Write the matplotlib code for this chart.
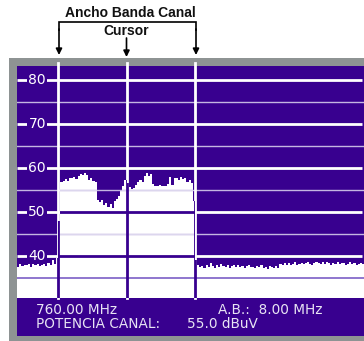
import matplotlib
matplotlib.use('Agg')
import matplotlib.pyplot as plt
from matplotlib.patches import Rectangle
import numpy as np

# spectrum levels (dBuV)
left_noise = [37.4, 38.2, 37.6, 38.0, 37.8, 38.3, 37.5, 38.1, 37.9, 38.4,
              37.7, 38.0, 38.2, 37.6, 38.3, 38.0, 39.1, 38.2, 39.6]
channel = [48.0, 56.8, 57.1, 57.4, 57.0, 57.8, 57.6, 58.0, 57.5, 58.1,
           58.6, 58.3, 58.8, 58.5, 57.3, 57.6, 57.0, 56.9, 52.6, 52.3,
           52.8, 51.6, 52.0, 51.2, 51.8, 50.8, 52.4, 52.9, 53.6, 54.8,
           55.9, 57.2, 56.6, 55.7, 55.3, 55.5, 56.2, 56.9, 57.3, 56.8,
           58.2, 58.9, 58.1, 58.6, 56.4, 56.0, 55.8, 56.1, 55.9, 56.0,
           55.8, 56.4, 57.9, 56.2, 57.6, 57.8, 57.2, 57.9, 57.4, 57.6,
           56.9, 57.3, 56.6, 52.4]
right_noise = [39.0, 37.8, 37.4, 37.6, 37.3, 37.9, 37.5, 38.3, 37.6, 37.2,
               37.8, 37.4, 38.1, 37.7, 37.5, 37.9, 37.3, 37.6, 37.8, 37.4,
               38.0, 37.5, 37.7, 37.3, 37.6, 37.9, 37.4, 37.5, 37.2, 37.6,
               37.4, 37.8, 37.3, 37.5, 37.1, 37.6, 37.4, 37.2, 37.7, 37.3,
               38.2, 37.9, 38.4, 38.0, 38.3, 37.9, 38.1, 38.5, 38.0, 38.2,
               38.4, 38.1, 38.3, 38.6, 38.2, 38.0, 38.4, 38.7, 38.3, 38.1,
               38.5, 38.2, 38.6, 38.3, 38.0, 38.4, 38.2, 38.5, 38.1, 38.3,
               38.4, 38.0, 38.2, 38.5, 38.1, 38.3, 38.0, 38.2, 38.4, 38.1]

freq_min, freq_max = 753.58, 773.9
chan_lo, chan_hi, cursor = 756.0, 764.0, 760.0
major_levels = [40, 50, 60, 70, 80]
minor_levels = [45, 55, 65, 75]
ref_level = 35
y_min, y_max = 30.4, 83.2

info_freq = '760.00 MHz'
info_bw = 'A.B.:  8.00 MHz'
info_label = 'POTENCIA CANAL:'
info_power = '55.0 dBuV'

purple = '#38008f'
gray = '#8e9393'
txt = '#e8e4f4'

W, H = 364, 341
fig = plt.figure(figsize=(W / 100, H / 100), dpi=100)
fig.patch.set_facecolor('white')

# pixel-space canvas for the frame, info panel and annotations
bg = fig.add_axes([0, 0, 1, 1])
bg.set_xlim(0, W)
bg.set_ylim(H, 0)
bg.axis('off')
bg.add_patch(Rectangle((9, 58), W - 9, H - 58, color=gray, lw=0))
bg.add_patch(Rectangle((17, 66), W - 17, 270, color=purple, lw=0))

bg.text(36, 314, info_freq, color=txt, fontsize=9.8, va='baseline')
bg.text(218, 314, info_bw, color=txt, fontsize=9.8, va='baseline')
bg.text(36, 328.5, info_label, color=txt, fontsize=9.8, va='baseline')
bg.text(187, 328.5, info_power, color=txt, fontsize=9.8, va='baseline')

# spectrum axes
ax = fig.add_axes([17 / W, (H - 298) / H, (W - 17) / W, (298 - 66) / H])
ax.set_facecolor(purple)
ax.set_xlim(freq_min, freq_max)
ax.set_ylim(y_min, y_max)
ax.set_xticks([])
ax.set_yticks([])
for s in ax.spines.values():
    s.set_visible(False)

edges = np.concatenate([
    np.linspace(freq_min, chan_lo, len(left_noise) + 1)[:-1],
    np.linspace(chan_lo, chan_hi, len(channel) + 1)[:-1],
    np.linspace(chan_hi, freq_max, len(right_noise) + 1),
])
levels = left_noise + channel + right_noise
fill = ax.stairs(levels, edges, baseline=y_min, fill=True, color='white', zorder=1)

# grid on the purple background, inverted where it crosses the trace
for y in major_levels:
    ax.hlines(y, freq_min, freq_max - 0.1, color='white', lw=2, zorder=2)
    l = ax.hlines(y, freq_min, freq_max, color=purple, lw=2, zorder=3)
    l.set_clip_path(fill)
for y in minor_levels:
    ax.axhline(y, color='#c4b6e2', lw=1, zorder=2)
    l = ax.axhline(y, color='#dcd6ee', lw=1, zorder=3)
    l.set_clip_path(fill)
ax.axhline(ref_level, color='#7b5fc6', lw=1.2, zorder=3)

for x in [chan_lo, cursor, chan_hi]:
    v = ax.axvline(x, ymax=1.012, color='white', lw=2, zorder=2)
    v.set_clip_on(False)
    l = ax.axvline(x, color=purple, lw=2, zorder=3)
    l.set_clip_path(fill)

for y in major_levels:
    ax.text(0.058, y, str(y), transform=ax.get_yaxis_transform(),
            color='white', fontsize=10, ha='center', va='center', zorder=4,
            bbox=dict(facecolor=purple, edgecolor='none', pad=1.0))

# bracket and arrows above the screen
arrow = dict(arrowstyle='-|>', color='black', lw=1.2, mutation_scale=9,
             shrinkA=0, shrinkB=0)
bg.plot([59, 59, 196, 196], [30, 22, 22, 30], color='black', lw=1.2,
        solid_joinstyle='miter')
bg.annotate('', xy=(59, 55), xytext=(59, 29), arrowprops=arrow)
bg.annotate('', xy=(196, 55), xytext=(196, 29), arrowprops=arrow)
bg.annotate('', xy=(126.5, 57), xytext=(126.5, 38), arrowprops=arrow)
bg.text(130, 13, 'Ancho Banda Canal', fontsize=10, fontweight='bold',
        family='Liberation Sans', ha='center', va='center', color='#111111')
bg.text(126, 31, 'Cursor', fontsize=10, fontweight='bold',
        family='Liberation Sans', ha='center', va='center', color='#111111')

fig.savefig('out.png', dpi=100)
